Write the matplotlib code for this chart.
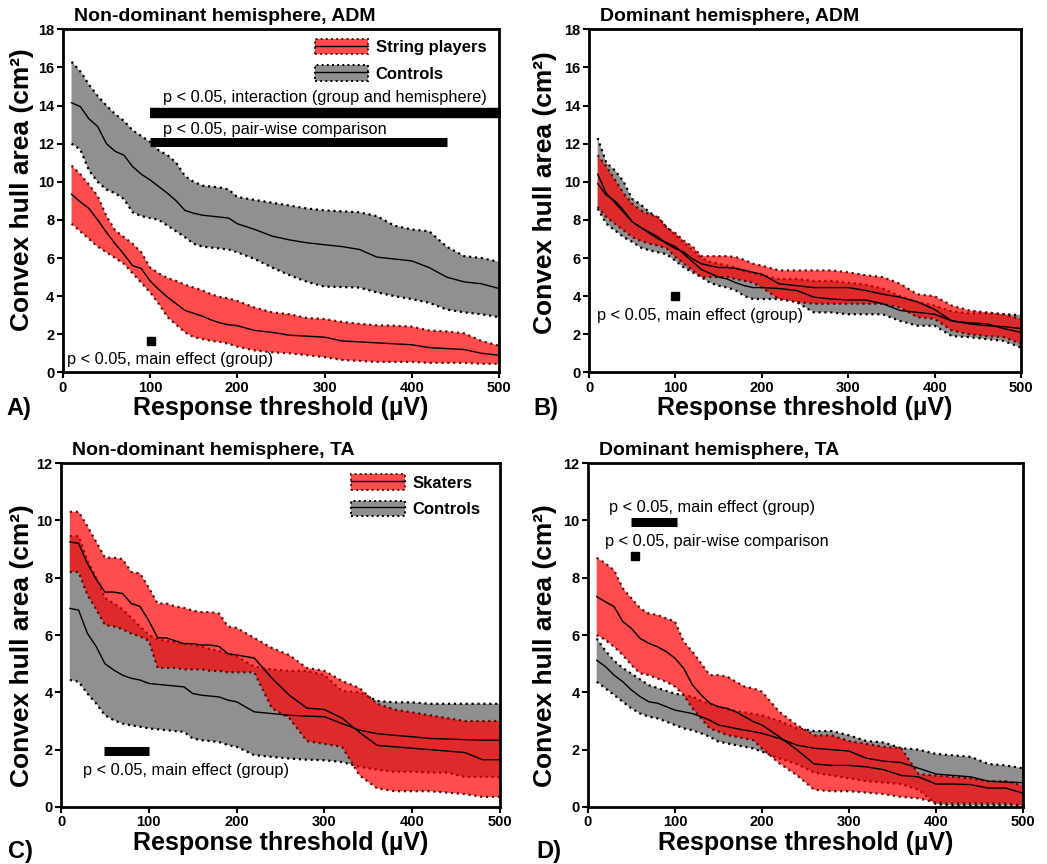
import matplotlib
matplotlib.use('Agg')
import matplotlib.pyplot as plt
from matplotlib.patches import Patch
from matplotlib.lines import Line2D

plt.rcParams['font.family'] = ['Liberation Sans', 'DejaVu Sans']

# response thresholds (uV)
thr = [10, 20, 30, 40, 50, 60, 70, 80, 90, 100, 110, 120, 130, 140, 150, 160, 170, 180, 190, 200,
       220, 240, 260, 280, 300, 320, 340, 360, 380, 400, 420, 440, 460, 480, 500]

# A) non-dominant hemisphere, ADM
a_str_hi = [10.85, 10.4, 9.85, 9.25, 8.2, 7.45, 7.1, 6.75, 6.3, 5.5, 5.2, 4.95, 4.8, 4.6, 4.45, 4.3, 4.1, 3.96, 3.88, 3.75,
            3.4, 3.15, 3.05, 2.85, 2.8, 2.65, 2.55, 2.47, 2.45, 2.4, 2.2, 2.15, 2.05, 1.65, 1.4]
a_str_mean = [9.35, 8.95, 8.6, 8.0, 7.35, 6.75, 6.2, 5.6, 5.45, 4.8, 4.35, 3.95, 3.6, 3.25, 3.1, 2.95, 2.75, 2.6, 2.5, 2.45,
              2.2, 2.1, 1.95, 1.9, 1.85, 1.65, 1.6, 1.55, 1.5, 1.45, 1.3, 1.25, 1.2, 1.0, 0.9]
a_str_lo = [7.8, 7.4, 7.0, 6.6, 6.3, 6.0, 5.7, 5.2, 4.7, 4.2, 3.6, 2.9, 2.5, 2.1, 1.85, 1.75, 1.65, 1.6, 1.5, 1.35,
            1.15, 1.05, 1.0, 0.9, 0.8, 0.65, 0.6, 0.55, 0.55, 0.55, 0.5, 0.5, 0.5, 0.45, 0.45]
a_ctl_hi = [16.3, 15.8, 15.1, 14.5, 14.0, 13.55, 13.2, 12.7, 12.4, 12.1, 11.65, 11.4, 11.0, 10.3, 10.0, 9.8, 9.75, 9.7, 9.6, 9.2,
            9.05, 8.9, 8.75, 8.6, 8.5, 8.45, 8.4, 8.2, 7.7, 7.5, 7.4, 6.6, 6.1, 6.0, 5.8]
a_ctl_mean = [14.15, 13.95, 13.3, 12.9, 12.0, 11.6, 11.4, 10.8, 10.4, 10.1, 9.75, 9.4, 9.0, 8.5, 8.35, 8.25, 8.2, 8.15, 8.1, 7.8,
              7.5, 7.15, 6.95, 6.8, 6.7, 6.6, 6.45, 6.05, 5.95, 5.85, 5.5, 5.0, 4.75, 4.65, 4.4]
a_ctl_lo = [12.0, 11.7, 10.6, 10.0, 9.6, 9.4, 9.1, 8.4, 8.2, 8.1, 8.0, 7.7, 7.4, 7.1, 6.75, 6.6, 6.55, 6.5, 6.45, 6.3,
            5.95, 5.5, 5.1, 4.75, 4.5, 4.48, 4.45, 4.2, 4.0, 3.85, 3.65, 3.3, 3.15, 3.05, 2.9]

# B) dominant hemisphere, ADM
b_str_hi = [11.4, 10.8, 10.1, 9.4, 8.85, 8.5, 8.3, 8.15, 7.6, 7.3, 6.9, 6.6, 6.1, 6.1, 6.1, 6.1, 6.05, 5.9, 5.7, 5.6,
            5.35, 5.35, 5.35, 5.35, 5.25, 5.1, 5.0, 4.65, 4.1, 4.0, 3.5, 3.25, 3.15, 3.05, 2.8]
b_str_mean = [9.9, 9.3, 9.0, 8.5, 7.9, 7.6, 7.35, 7.1, 6.75, 6.5, 6.3, 5.95, 5.7, 5.6, 5.5, 5.5, 5.45, 5.35, 5.25, 5.15,
              4.65, 4.55, 4.45, 4.45, 4.45, 4.3, 4.1, 3.95, 3.7, 3.3, 2.7, 2.6, 2.55, 2.3, 2.1]
b_str_lo = [8.7, 8.15, 7.8, 7.45, 7.1, 6.9, 6.75, 6.65, 6.5, 6.05, 5.7, 5.35, 5.0, 5.0, 5.0, 5.0, 4.9, 4.8, 4.7, 4.45,
            3.85, 3.7, 3.6, 3.6, 3.6, 3.6, 3.6, 3.4, 2.9, 2.8, 2.2, 2.0, 1.9, 1.85, 1.5]
b_ctl_hi = [12.3, 11.0, 10.6, 10.0, 9.1, 8.8, 8.4, 8.1, 7.6, 7.2, 6.8, 6.4, 6.0, 5.8, 5.7, 5.6, 5.5, 5.3, 5.2, 5.1,
            4.9, 4.9, 4.8, 4.8, 4.7, 4.6, 4.4, 4.0, 3.7, 3.5, 3.2, 3.1, 3.1, 3.05, 3.0]
b_ctl_mean = [10.4, 9.4, 8.9, 8.4, 7.9, 7.6, 7.3, 7.0, 6.8, 6.6, 6.2, 5.8, 5.4, 5.2, 5.0, 4.9, 4.7, 4.55, 4.45, 4.45,
              4.4, 4.3, 3.95, 3.85, 3.8, 3.8, 3.6, 3.25, 3.15, 3.05, 2.7, 2.55, 2.45, 2.4, 2.3]
b_ctl_lo = [8.6, 7.8, 7.45, 7.1, 6.85, 6.55, 6.4, 6.3, 6.2, 5.85, 5.5, 5.25, 5.0, 4.7, 4.55, 4.45, 4.3, 4.0, 3.85, 3.85,
            3.85, 3.7, 3.15, 3.15, 3.05, 3.05, 3.05, 2.7, 2.45, 2.45, 1.9, 1.85, 1.75, 1.65, 1.3]

# C) non-dominant hemisphere, TA
c_sk_hi = [10.3, 10.3, 9.8, 9.25, 8.7, 8.7, 8.65, 8.2, 8.15, 7.65, 7.1, 7.1, 7.0, 6.95, 6.85, 6.8, 6.8, 6.75, 6.3, 6.25,
           5.9, 5.55, 5.3, 4.85, 4.75, 4.4, 4.15, 3.6, 3.4, 3.3, 3.2, 3.1, 3.0, 3.0, 3.0]
c_sk_mean = [9.25, 9.2, 8.5, 7.95, 7.5, 7.5, 7.45, 7.1, 7.0, 6.5, 5.9, 5.9, 5.8, 5.7, 5.7, 5.65, 5.65, 5.6, 5.35, 5.3,
             5.2, 4.5, 3.9, 3.45, 3.4, 3.1, 2.6, 2.15, 2.1, 2.05, 2.0, 1.95, 1.9, 1.65, 1.65]
c_sk_lo = [8.2, 8.2, 7.4, 6.9, 6.35, 6.3, 6.2, 6.05, 5.95, 5.8, 4.85, 4.85, 4.85, 4.8, 4.8, 4.8, 4.75, 4.75, 4.7, 4.7,
           4.7, 3.45, 3.1, 2.3, 2.2, 2.1, 1.1, 0.65, 0.55, 0.55, 0.55, 0.5, 0.45, 0.35, 0.35]
c_ctl_hi = [9.45, 9.45, 8.6, 8.0, 7.3, 7.1, 6.9, 6.6, 6.3, 6.0, 5.85, 5.8, 5.75, 5.7, 5.65, 5.6, 5.5, 5.45, 5.35, 5.25,
            4.9, 4.8, 4.75, 4.75, 4.6, 4.05, 4.0, 3.7, 3.65, 3.65, 3.6, 3.6, 3.6, 3.6, 3.6]
c_ctl_mean = [6.93, 6.87, 6.06, 5.6, 5.0, 4.78, 4.6, 4.49, 4.43, 4.31, 4.28, 4.25, 4.22, 4.19, 3.96, 3.9, 3.87, 3.84, 3.73, 3.67,
              3.32, 3.26, 3.2, 3.17, 3.15, 2.91, 2.68, 2.56, 2.5, 2.45, 2.39, 2.37, 2.35, 2.33, 2.33]
c_ctl_lo = [4.43, 4.37, 3.96, 3.61, 3.2, 3.03, 2.91, 2.85, 2.8, 2.74, 2.71, 2.68, 2.65, 2.62, 2.39, 2.33, 2.3, 2.27, 2.16, 2.1,
            1.81, 1.75, 1.69, 1.65, 1.63, 1.57, 1.4, 1.3, 1.23, 1.23, 1.2, 1.2, 1.05, 1.05, 1.05]

# D) dominant hemisphere, TA
d_sk_hi = [8.7, 8.5, 8.26, 7.63, 7.28, 6.93, 6.75, 6.7, 6.58, 6.47, 5.77, 5.42, 5.01, 4.6, 4.6, 4.55, 4.37, 4.2, 4.14, 4.02,
           3.32, 2.86, 2.5, 2.5, 2.3, 2.2, 2.1, 2.05, 1.15, 1.1, 1.05, 1.0, 0.9, 0.9, 0.75]
d_sk_mean = [7.34, 7.16, 6.99, 6.47, 6.23, 5.88, 5.71, 5.59, 5.42, 5.19, 4.84, 4.26, 3.91, 3.62, 3.5, 3.44, 3.32, 3.15, 2.98, 2.86,
             2.45, 2.0, 1.5, 1.45, 1.45, 1.4, 1.3, 1.1, 1.05, 0.8, 0.8, 0.78, 0.66, 0.66, 0.48]
d_sk_lo = [6.0, 5.83, 5.59, 5.3, 4.95, 4.66, 4.6, 4.48, 4.37, 4.2, 3.91, 3.44, 3.09, 2.74, 2.63, 2.51, 2.45, 2.39, 2.33, 2.04,
           1.52, 1.11, 0.6, 0.55, 0.55, 0.5, 0.45, 0.35, 0.3, 0.15, 0.12, 0.12, 0.12, 0.12, 0.05]
d_ctl_hi = [5.88, 5.45, 5.1, 4.85, 4.65, 4.45, 4.25, 4.15, 4.05, 3.95, 3.91, 3.85, 3.7, 3.6, 3.5, 3.4, 3.35, 3.3, 3.25, 3.2,
            3.0, 2.75, 2.65, 2.65, 2.5, 2.3, 2.25, 2.05, 2.0, 1.85, 1.8, 1.75, 1.5, 1.45, 1.35]
d_ctl_mean = [5.12, 4.9, 4.6, 4.37, 4.08, 3.85, 3.67, 3.62, 3.5, 3.38, 3.32, 3.26, 3.15, 3.03, 2.86, 2.8, 2.74, 2.68, 2.63, 2.57,
              2.39, 2.16, 2.05, 2.0, 1.95, 1.7, 1.6, 1.55, 1.35, 1.15, 1.1, 1.05, 0.9, 0.87, 0.85]
d_ctl_lo = [4.37, 4.14, 3.91, 3.67, 3.44, 3.26, 3.15, 3.09, 2.98, 2.86, 2.74, 2.68, 2.57, 2.45, 2.28, 2.22, 2.16, 2.1, 2.04, 1.93,
            1.69, 1.5, 1.2, 1.1, 1.0, 0.9, 0.85, 0.8, 0.6, 0.1, 0.05, 0.05, 0.05, 0.05, 0.05]

RED = (1.0, 0.0, 0.0, 0.7)
RED_EDGE = (0.3, 0.0, 0.0, 0.9)
GRAY = '#909090'
GRAY_EDGE = 'black'


def band(ax, lo, mean, hi, face, edge):
    ax.fill_between(thr, lo, hi, facecolor=face, edgecolor='none', zorder=2)
    ax.plot(thr, hi, ls=':', color=edge, lw=1.6, zorder=2)
    ax.plot(thr, lo, ls=':', color=edge, lw=1.6, zorder=2)


def mean_line(ax, mean):
    ax.plot(thr, mean, color='black', lw=1.0, zorder=3)


def setup(ax, ymax, title, letter, letter_pos, ylab_pos):
    ax.set_xlim(0, 500)
    ax.set_ylim(0, ymax)
    ax.set_xticks([0, 100, 200, 300, 400, 500])
    ax.set_yticks(range(0, ymax + 1, 2))
    for s in ax.spines.values():
        s.set_linewidth(2.0)
    ax.tick_params(direction='out', length=4, width=1.5, labelsize=10.5, pad=2)
    for lab in ax.get_xticklabels() + ax.get_yticklabels():
        lab.set_fontweight('bold')
    ax.set_xlabel('Response threshold (µV)', fontsize=18, fontweight='bold', labelpad=1)
    ax.set_ylabel('Convex hull area (cm²)', fontsize=19, fontweight='bold')
    ax.yaxis.set_label_coords(*ylab_pos)
    ax.text(0.025, 1.012, title, transform=ax.transAxes, fontsize=14, fontweight='bold',
            ha='left', va='bottom')
    fig.text(letter_pos[0], letter_pos[1], letter, fontsize=17, fontweight='bold', ha='left', va='center')


def bar(ax, x0, x1, y, lw):
    ax.plot([x0, x1], [y, y], color='black', lw=lw, solid_capstyle='butt', zorder=4, clip_on=False)


def square(ax, x, y):
    ax.plot([x], [y], marker='s', color='black', ms=5.5, zorder=4)


def note(ax, x, y, s):
    ax.text(x, y, s, fontsize=11.8, ha='left', va='center', zorder=5)


def legend(ax, labels, anchor):
    handles = [(Patch(facecolor=RED, edgecolor=RED_EDGE, linestyle=':', lw=1.4), Line2D([], [], color='black', lw=1.0)),
               (Patch(facecolor=GRAY, edgecolor=GRAY_EDGE, linestyle=':', lw=1.4), Line2D([], [], color='black', lw=1.0))]
    ax.legend(handles, labels, loc='upper left', bbox_to_anchor=anchor, frameon=False,
              prop={'weight': 'bold', 'size': 12}, handlelength=3.2, handleheight=1.05,
              handletextpad=0.45, labelspacing=0.6, borderpad=0, borderaxespad=0)


fig = plt.figure(figsize=(10.47, 8.64), dpi=100)
axA = fig.add_axes([0.060, 0.569, 0.4166, 0.397])
axB = fig.add_axes([0.5626, 0.569, 0.4126, 0.397])
axC = fig.add_axes([0.0583, 0.066, 0.4193, 0.398])
axD = fig.add_axes([0.5616, 0.066, 0.4155, 0.398])

# A
band(axA, a_ctl_lo, a_ctl_mean, a_ctl_hi, GRAY, GRAY_EDGE)
band(axA, a_str_lo, a_str_mean, a_str_hi, RED, RED_EDGE)
mean_line(axA, a_ctl_mean)
mean_line(axA, a_str_mean)
setup(axA, 18, 'Non-dominant hemisphere, ADM', 'A)', (0.006, 0.527), (-0.066, 0.534))
legend(axA, ['String players', 'Controls'], (0.578, 0.972))
note(axA, 115, 14.4, 'p < 0.05, interaction (group and hemisphere)')
bar(axA, 100, 502, 13.6, 7.5)
note(axA, 115, 12.75, 'p < 0.05, pair-wise comparison')
bar(axA, 100, 440, 12.1, 6.5)
square(axA, 101, 1.65)
note(axA, 5, 0.65, 'p < 0.05, main effect (group)')

# B
band(axB, b_ctl_lo, b_ctl_mean, b_ctl_hi, GRAY, GRAY_EDGE)
band(axB, b_str_lo, b_str_mean, b_str_hi, RED, RED_EDGE)
mean_line(axB, b_ctl_mean)
mean_line(axB, b_str_mean)
setup(axB, 18, 'Dominant hemisphere, ADM', 'B)', (0.509, 0.527), (-0.074, 0.525))
square(axB, 99.5, 4.0)
note(axB, 9, 3.0, 'p < 0.05, main effect (group)')

# C
band(axC, c_ctl_lo, c_ctl_mean, c_ctl_hi, GRAY, GRAY_EDGE)
band(axC, c_sk_lo, c_sk_mean, c_sk_hi, RED, RED_EDGE)
mean_line(axC, c_ctl_mean)
mean_line(axC, c_sk_mean)
setup(axC, 12, 'Non-dominant hemisphere, TA', 'C)', (0.008, 0.014), (-0.061, 0.47))
legend(axC, ['Skaters', 'Controls'], (0.661, 0.968))
bar(axC, 49, 100, 1.95, 6.5)
note(axC, 25, 1.28, 'p < 0.05, main effect (group)')

# D
band(axD, d_ctl_lo, d_ctl_mean, d_ctl_hi, GRAY, GRAY_EDGE)
band(axD, d_sk_lo, d_sk_mean, d_sk_hi, RED, RED_EDGE)
mean_line(axD, d_ctl_mean)
mean_line(axD, d_sk_mean)
setup(axD, 12, 'Dominant hemisphere, TA', 'D)', (0.512, 0.014), (-0.071, 0.468))
note(axD, 24, 10.45, 'p < 0.05, main effect (group)')
bar(axD, 50, 102, 9.95, 6.5)
note(axD, 20, 9.27, 'p < 0.05, pair-wise comparison')
square(axD, 54.5, 8.76)

fig.savefig('out.png', dpi=100)
